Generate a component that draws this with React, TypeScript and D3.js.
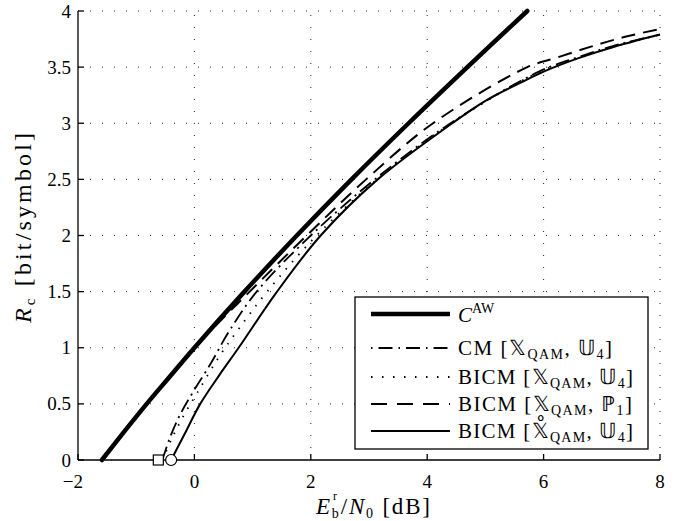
import React from "react";
import * as d3 from "d3";

// ---- data (Eb/N0 in dB, rate in bit/symbol) ----
const xTicks = [-2, 0, 2, 4, 6, 8];
const yTicks = [0, 0.5, 1, 1.5, 2, 2.5, 3, 3.5, 4];

const capDb = [-1.59, -1.21, -0.82, -0.41, 0, 0.86, 1.76, 2.7, 3.68, 4.69, 5.72];
const capRate = [0, 0.25, 0.5, 0.75, 1, 1.5, 2, 2.5, 3, 3.5, 4];

const cmDb = [-0.55, -0.42, -0.25, -0.03, 0.27, 0.6, 1.07, 2.0, 3.1, 4.4, 5.92, 6.6, 7.2, 8.0];
const cmRate = [0, 0.2, 0.4, 0.6, 0.85, 1.15, 1.5, 2.0, 2.5, 3.0, 3.46, 3.59, 3.69, 3.79];

const bicmDb = [-0.55, -0.38, -0.18, 0.05, 0.4, 0.75, 1.25, 2.1, 3.14, 4.42, 5.94, 6.6, 7.2, 8.0];
const bicmRate = [0, 0.2, 0.4, 0.6, 0.9, 1.16, 1.5, 2.0, 2.5, 3.0, 3.46, 3.58, 3.68, 3.79];

const shapedDb = [-1.59, -0.82, 0.0, 0.95, 1.93, 2.95, 4.1, 5.72, 6.2, 6.8, 7.4, 8.0];
const shapedRate = [0, 0.5, 1.0, 1.5, 2.0, 2.5, 3.0, 3.5, 3.58, 3.68, 3.77, 3.84];

const ringDb = [-0.4, -0.3, -0.15, 0.1, 0.42, 0.76, 1.42, 2.17, 3.15, 4.43, 5.0, 5.6, 6.0, 6.6, 7.2, 8.0];
const ringRate = [0, 0.1, 0.25, 0.5, 0.75, 1.0, 1.5, 2.0, 2.5, 3.0, 3.2, 3.36, 3.46, 3.58, 3.68, 3.79];

const squareDb = [-0.62];
const circleDb = [-0.4];

const W = 689;
const H = 521;
const FONT = "'Liberation Serif', 'Times New Roman', 'DejaVu Serif', serif";
const BB = "'DejaVu Sans', 'Noto Sans', sans-serif";

export default function App() {
  const x = d3.scaleLinear().domain([-2, 8]).range([78, 660]);
  const y = d3.scaleLinear().domain([0, 4]).range([460, 11]);

  const mk = (db: number[], r: number[]) =>
    d3
      .line<number>()
      .x((_, i) => x(db[i]))
      .y((_, i) => y(r[i]))
      .curve(d3.curveCatmullRom.alpha(0.5))(r) as string;

  const series = [
    { d: mk(ringDb, ringRate), w: 2, dash: "none" },
    { d: mk(shapedDb, shapedRate), w: 2, dash: "14 8" },
    { d: mk(bicmDb, bicmRate), w: 1.8, dash: "1.5 8" },
    { d: mk(cmDb, cmRate), w: 1.8, dash: "14 5 2 5" },
    { d: mk(capDb, capRate), w: 4.5, dash: "none" },
  ];

  const legendY = [314, 348, 377, 404, 431];
  const legendStyles = [
    { w: 4.5, dash: "none" },
    { w: 2, dash: "1.5 6 14 6" },
    { w: 2, dash: "1.5 9.5" },
    { w: 2.2, dash: "16 10" },
    { w: 2, dash: "none" },
  ];

  const fs = 19;
  const lfs = 21;
  const sub = 14;

  const bbText = (letter: string, subs: string, second: string, sub2: string) => (
    <>
      {"  ["}
      <tspan fontFamily={BB} fontWeight={300}>{letter}</tspan>
      <tspan fontSize={sub} dy={4}>{subs}</tspan>
      <tspan dy={-4}>{", "}</tspan>
      <tspan fontFamily={BB} fontWeight={300}>{second}</tspan>
      <tspan fontSize={sub} dy={4}>{sub2}</tspan>
      <tspan dy={-4}>{"]"}</tspan>
    </>
  );

  const rows = [
    { label: "CM", a: "\u{1D54F}", b: "\u{1D54C}", s: "4", len: 154 },
    { label: "BICM", a: "\u{1D54F}", b: "\u{1D54C}", s: "4", len: 175 },
    { label: "BICM", a: "\u{1D54F}", b: "\u2119", s: "1", len: 174 },
    { label: "BICM", a: "\u{1D54F}\u030A", b: "\u{1D54C}", s: "4", len: 175 },
  ];

  return (
    <svg
      width={W}
      height={H}
      style={{ position: "absolute", left: 0, top: 0, background: "#fff", fontFamily: FONT }}
    >
      <rect width={W} height={H} fill="#fff" />
      {/* grid */}
      <g stroke="#222" strokeWidth={1} strokeDasharray="1 11">
        {xTicks.slice(1).map((t) => (
          <line key={"gx" + t} x1={x(t)} x2={x(t)} y1={y(0)} y2={y(4)} />
        ))}
        {yTicks.slice(1).map((t) => (
          <line key={"gy" + t} x1={x(-2)} x2={x(8)} y1={y(t)} y2={y(t)} />
        ))}
      </g>
      {/* axes */}
      <g stroke="#000" strokeWidth={1.3}>
        <line x1={x(-2)} x2={x(-2)} y1={y(0)} y2={y(4)} />
        <line x1={x(-2)} x2={x(8)} y1={y(0)} y2={y(0)} />
        {xTicks.map((t) => (
          <line key={"tx" + t} x1={x(t)} x2={x(t)} y1={y(0)} y2={y(0) - 6} />
        ))}
        {yTicks.map((t) => (
          <line key={"ty" + t} x1={x(-2)} x2={x(-2) + 6} y1={y(t)} y2={y(t)} />
        ))}
      </g>
      {/* tick labels */}
      <g fontSize={fs} fill="#000">
        {yTicks.map((t) => (
          <text key={"ly" + t} x={71} y={y(t) + 6.5} textAnchor="end">
            {String(t)}
          </text>
        ))}
        {xTicks.map((t) => (
          <text
            key={"lx" + t}
            x={t < 0 ? x(t) + 5 : x(t)}
            y={488}
            textAnchor={t < 0 ? "end" : "middle"}
          >
            {t < 0 ? "\u2212" + Math.abs(t) : String(t)}
          </text>
        ))}
      </g>
      {/* curves */}
      <g fill="none" stroke="#000" strokeLinejoin="round">
        {series.map((s, i) => (
          <path
            key={i}
            d={s.d}
            strokeWidth={s.w}
            strokeDasharray={s.dash}
            strokeLinecap={s.w > 4 ? "round" : "butt"}
          />
        ))}
      </g>
      {/* markers */}
      {squareDb.map((v, i) => (
        <rect key={"sq" + i} x={x(v) - 5} y={y(0) - 5} width={10} height={10} fill="#fff" stroke="#000" strokeWidth={1.2} />
      ))}
      {circleDb.map((v, i) => (
        <circle key={"ci" + i} cx={x(v)} cy={y(0)} r={5.5} fill="#fff" stroke="#000" strokeWidth={1.2} />
      ))}
      {/* legend */}
      <rect x={355} y={297} width={293} height={152} fill="#fff" stroke="#000" strokeWidth={1.3} />
      {legendY.map((ly, i) => (
        <line
          key={"ll" + i}
          x1={371}
          x2={450}
          y1={ly}
          y2={ly}
          stroke="#000"
          strokeWidth={legendStyles[i].w}
          strokeDasharray={legendStyles[i].dash}
        />
      ))}
      <g fontSize={lfs} fill="#000">
        <text x={458} y={legendY[0] + 8}>
          <tspan fontStyle="italic">C</tspan>
          <tspan fontSize={sub} dy={-9}>AW</tspan>
        </text>
        {rows.map((r, i) => (
          <text
            key={"lt" + i}
            x={458}
            y={legendY[i + 1] + 7}
            textLength={r.len}
            lengthAdjust="spacing"
          >
            {r.label}
            {bbText(r.a, "QAM", r.b, r.s)}
          </text>
        ))}
      </g>
      {/* axis labels */}
      <text x={316} y={514} fontSize={23} fill="#000" textLength={114} lengthAdjust="spacing">
        <tspan fontStyle="italic">E</tspan>
        <tspan fontSize={14} dy={4}>b</tspan>
        <tspan dy={-4}>{"/"}</tspan>
        <tspan fontStyle="italic">N</tspan>
        <tspan fontSize={14} dy={4}>0</tspan>
        <tspan dy={-4}>{"  [dB]"}</tspan>
      </text>
      <text x={333} y={500} fontSize={12} fill="#000">r</text>
      <text
        transform="translate(31,228) rotate(-90)"
        textAnchor="middle"
        fontSize={24}
        fill="#000"
        textLength={190}
        lengthAdjust="spacing"
      >
        <tspan fontStyle="italic">R</tspan>
        <tspan fontSize={15} dy={4}>c</tspan>
        <tspan dy={-4}>{"  [bit/symbol]"}</tspan>
      </text>
    </svg>
  );
}
